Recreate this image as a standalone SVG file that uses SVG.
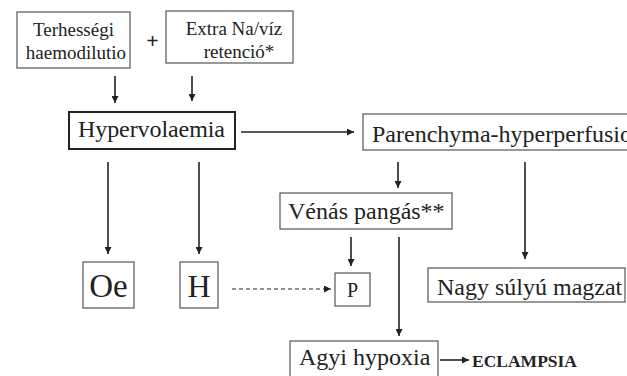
<svg xmlns="http://www.w3.org/2000/svg" width="627" height="376" viewBox="0 0 627 376">
<style>
.box{fill:#fff;stroke:#555;stroke-width:1.2}
.bold{fill:#fff;stroke:#222;stroke-width:2}
.t{font-family:"Liberation Serif","Times New Roman",serif;fill:#222}
.ln{stroke:#222;stroke-width:1.6;fill:none}
.dash{stroke:#222;stroke-width:1;stroke-dasharray:4,3;fill:none}
</style>
<defs>
<marker id="ah" viewBox="0 0 8 8" refX="8" refY="4" markerWidth="7" markerHeight="7" markerUnits="userSpaceOnUse" orient="auto">
<path d="M0,0 L8,4 L0,8 z" fill="#222"/>
</marker>
</defs>
<rect width="627" height="376" fill="#fff"/>
<g id="connectors">
<line class="ln" x1="115" y1="76" x2="115" y2="103" marker-end="url(#ah)"/>
<line class="ln" x1="192" y1="76" x2="192" y2="101" marker-end="url(#ah)"/>
<line class="ln" x1="241" y1="132" x2="354" y2="132" marker-end="url(#ah)"/>
<line class="ln" x1="108" y1="162" x2="108" y2="254" marker-end="url(#ah)"/>
<line class="ln" x1="199" y1="162" x2="199" y2="254" marker-end="url(#ah)"/>
<line class="ln" x1="398" y1="162" x2="398" y2="188" marker-end="url(#ah)"/>
<line class="ln" x1="525" y1="162" x2="525" y2="259" marker-end="url(#ah)"/>
<line class="ln" x1="351" y1="237" x2="351" y2="266" marker-end="url(#ah)"/>
<line class="ln" x1="399" y1="237" x2="399" y2="336" marker-end="url(#ah)"/>
<line class="dash" x1="232" y1="289" x2="331" y2="289" marker-end="url(#ah)"/>
<line class="ln" x1="440" y1="360" x2="469" y2="360" marker-end="url(#ah)"/>
</g>
<g id="terhessegi">
<rect class="box" x="17" y="12" width="113" height="56"/>
<text class="t" x="73.5" y="36" font-size="19" text-anchor="middle">Terhességi</text>
<text class="t" x="76" y="59" font-size="19" text-anchor="middle">haemodilutio</text>
</g>
<g id="plus">
<text class="t" x="152.5" y="48" font-size="22" font-weight="bold" text-anchor="middle">+</text>
</g>
<g id="extra">
<rect class="box" x="166" y="11" width="127" height="52"/>
<text class="t" x="234" y="35" font-size="19" text-anchor="middle">Extra Na/víz</text>
<text class="t" x="239" y="58" font-size="19" text-anchor="middle">retenció*</text>
</g>
<g id="hypervolaemia">
<rect class="bold" x="69" y="112" width="166" height="37"/>
<text class="t" x="78" y="137" font-size="24" textLength="147">Hypervolaemia</text>
</g>
<g id="parenchyma">
<rect class="box" x="363" y="114" width="280" height="36"/>
<text class="t" x="372" y="142" font-size="24">Parenchyma-hyperperfusio</text>
</g>
<g id="venas">
<rect class="box" x="280" y="193" width="172" height="36"/>
<text class="t" x="288" y="219" font-size="24">Vénás pangás**</text>
</g>
<g id="oe">
<rect class="box" x="83" y="262" width="51" height="46"/>
<text class="t" x="108.5" y="297" font-size="33" text-anchor="middle">Oe</text>
</g>
<g id="h">
<rect class="box" x="180" y="262" width="38" height="46"/>
<text class="t" x="199" y="297" font-size="32" text-anchor="middle">H</text>
</g>
<g id="p">
<rect class="box" x="335" y="273" width="35" height="33"/>
<text class="t" x="352.5" y="297" font-size="20" text-anchor="middle">P</text>
</g>
<g id="nagy">
<rect class="box" x="428" y="268" width="197" height="34"/>
<text class="t" x="437" y="295" font-size="24">Nagy súlyú magzat</text>
</g>
<g id="agyi">
<rect class="box" x="290" y="341" width="148" height="40"/>
<text class="t" x="299" y="365" font-size="24">Agyi hypoxia</text>
</g>
<g id="eclampsia">
<text class="t" x="472" y="367" font-size="17.5" font-weight="bold">ECLAMPSIA</text>
</g>
</svg>
